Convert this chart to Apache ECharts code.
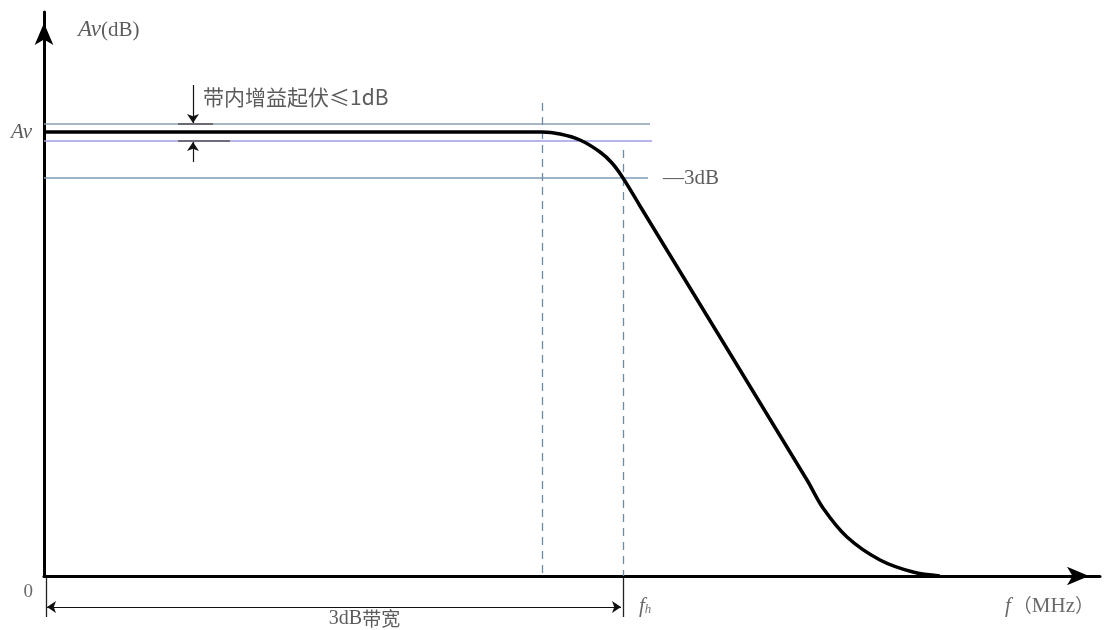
<!DOCTYPE html>
<html><head><meta charset="utf-8">
<script src="https://cdn.jsdelivr.net/npm/echarts@6/dist/echarts.min.js"></script>
<style>html,body{margin:0;padding:0;background:#fff}#c{width:1104px;height:630px}</style>
</head><body><div id="c"></div>
<script>
// ---- data (arbitrary units: frequency on x, gain on y) ----
var responseX = [0, 49.8, 51.6, 53.6, 55.6, 56.8, 57.9, 59.6, 76.3, 77.9, 80.3, 83.6, 86.9, 89.6];
var responseY = [44.4, 44.4, 44.2, 43.6, 42.4, 41.3, 39.8, 37.0, 9.6, 6.8, 3.9, 1.6, 0.4, 0];
var avLevel = 44.4;
var rippleTop = 45.2;
var rippleBottom = 43.5;
var level3dB = 39.8;
var refLineEnd = [60.6, 60.8, 60.4];   // x end of top ripple, bottom ripple, -3dB lines
var fStart = 49.8;     // passband edge (dashed)
var fh = 57.9;         // -3dB frequency
var fStartTop = 47.3, fhTop = 42.6;
var rippleArrowX = 14.9;
var bwY = -3.1;
var xMax = 105.6, yMax = 56.4;
var labels = {
  yName: 'Av', yUnit: '(dB)', av: 'Av', zero: '0', ripple: '带内增益起伏≤1dB',
  minus3: '—3dB', bw: '带宽', bwNum: '3dB', fh: 'f', fhSub: 'h', xName: 'f', xUnit: 'MHz'
};

var curve = responseX.map(function (x, i) { return [x, responseY[i]]; });
var serif = "'Liberation Serif','DejaVu Serif',serif";
var cjk = "'Noto Sans CJK SC','Liberation Serif',serif";

function seg(p1, p2, color, width, type) {
  return { coords: [p1, p2], lineStyle: { color: color, width: width, type: type, opacity: 1 } };
}

var chart = echarts.init(document.getElementById('c'));
chart.setOption({
  animation: false,
  grid: { left: 44, right: 4, top: 12, bottom: 54 },
  xAxis: {
    type: 'value', min: 0, max: xMax,
    axisLine: { lineStyle: { color: '#000', width: 3 }, symbol: ['none', 'arrow'], symbolSize: [14, 22], symbolOffset: [0, -11] },
    axisTick: { show: false }, axisLabel: { show: false }, splitLine: { show: false }
  },
  yAxis: {
    type: 'value', min: 0, max: yMax,
    axisLine: { lineStyle: { color: '#000', width: 3 }, symbol: ['none', 'arrow'], symbolSize: [14, 22], symbolOffset: [0, -11] },
    axisTick: { show: false }, axisLabel: { show: false }, splitLine: { show: false }
  },
  series: [
    {
      type: 'lines', coordinateSystem: 'cartesian2d', clip: false, silent: true, symbol: 'none', z: 2,
      data: [
        seg([0, rippleTop], [refLineEnd[0], rippleTop], '#8a9db0', 1.5, 'solid'),
        seg([0, rippleBottom], [refLineEnd[1], rippleBottom], '#9c9ce6', 1.5, 'solid'),
        seg([0, level3dB], [refLineEnd[2], level3dB], '#7c9db8', 1.5, 'solid'),
        seg([fStart, fStartTop], [fStart, 0], '#6a8cab', 1.3, [8, 6]),
        seg([fh, fhTop], [fh, 0], '#6a8cab', 1.3, [8, 6]),
        seg([13.4, rippleTop], [16.9, rippleTop], '#555', 1.5, 'solid'),
        seg([13.4, rippleBottom], [18.6, rippleBottom], '#555', 1.5, 'solid'),
        seg([fh, -0.2], [fh, -4.1], '#222', 1.3, 'solid'),
        seg([0.2, -0.2], [0.2, -4.1], '#222', 1.3, 'solid')
      ]
    },
    {
      type: 'lines', coordinateSystem: 'cartesian2d', clip: false, silent: true,
      symbol: ['none', 'arrow'], symbolSize: 9, z: 3,
      data: [
        seg([rippleArrowX, 49.1], [rippleArrowX, rippleTop + 0.1], '#111', 1.2, 'solid'),
        seg([rippleArrowX, 41.4], [rippleArrowX, rippleBottom - 0.1], '#111', 1.2, 'solid')
      ]
    },
    {
      type: 'lines', coordinateSystem: 'cartesian2d', clip: false, silent: true,
      symbol: ['arrow', 'arrow'], symbolSize: 9, z: 3,
      data: [
        seg([0.3, bwY], [fh - 0.2, bwY], '#111', 1.2, 'solid')
      ]
    },
    {
      type: 'line', data: curve, smooth: 0.35, symbol: 'none', clip: false,
      lineStyle: { color: '#000', width: 3.5 }, z: 5
    },
    {
      type: 'scatter', symbolSize: 0, clip: false, silent: true, z: 6,
      data: [
        { value: [2.9, 54.6], label: { show: true, position: 'right', formatter: '{i|' + labels.yName + '}{n|' + labels.yUnit + '}',
          rich: { i: { fontFamily: serif, fontStyle: 'italic', fontSize: 23, color: '#333' }, n: { fontFamily: serif, fontSize: 21, color: '#333' } } } },
        { value: [-0.7, avLevel], label: { show: true, position: 'left', formatter: labels.av, fontFamily: serif, fontStyle: 'italic', fontSize: 21, color: '#333' } },
        { value: [-0.6, -1.6], label: { show: true, position: 'left', formatter: labels.zero, fontFamily: serif, fontSize: 19, color: '#444' } },
        { value: [15.4, 47.9], label: { show: true, position: 'right', formatter: labels.ripple, fontFamily: cjk, fontSize: 21, color: '#333' } },
        { value: [61.4, level3dB], label: { show: true, position: 'right', formatter: labels.minus3, fontFamily: serif, fontSize: 21, color: '#333' } },
        { value: [fh / 2 + 3.1, bwY - 1.2], label: { show: true, position: 'inside', formatter: '{n|' + labels.bwNum + '}{c|' + labels.bw + '}',
          backgroundColor: '#fff', padding: [0, 2],
          rich: { n: { fontFamily: serif, fontSize: 20, color: '#333' }, c: { fontFamily: cjk, fontSize: 19, color: '#333' } } } },
        { value: [59.0, -3.0], label: { show: true, position: 'right', formatter: '{i|' + labels.fh + '}{s|' + labels.fhSub + '}',
          rich: { i: { fontFamily: serif, fontStyle: 'italic', fontSize: 21, color: '#444' }, s: { fontFamily: serif, fontStyle: 'italic', fontSize: 13, color: '#555', verticalAlign: 'bottom', padding: [6, 0, 0, 0] } } } },
        { value: [95.6, -3.0], label: { show: true, position: 'right', formatter: '{i|' + labels.xName + '}{p|（}{n|' + labels.xUnit + '}{q|）}',
          rich: { i: { fontFamily: serif, fontStyle: 'italic', fontSize: 21, color: '#444' },
                  p: { fontFamily: cjk, fontSize: 19, color: '#444', padding: [0, 0, 0, 2] },
                  q: { fontFamily: cjk, fontSize: 19, color: '#444' },
                  n: { fontFamily: serif, fontSize: 21, color: '#444' } } } }
      ]
    }
  ]
});
</script></body></html>
